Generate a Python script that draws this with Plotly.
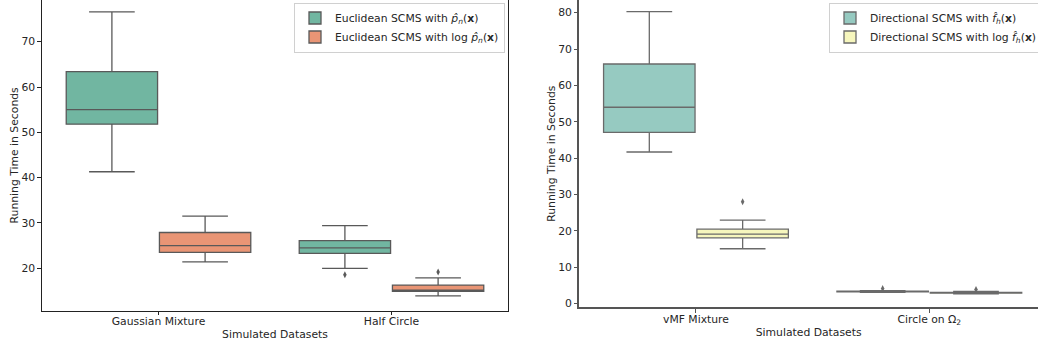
import plotly.graph_objects as go

# Datasets on each panel
euclid_datasets = ["Gaussian Mixture", "Half Circle"]
direct_datasets = ["vMF Mixture", "Circle on Ω<sub>2</sub>"]

# Euclidean SCMS with the density estimate p_n (seconds)
euc_p_low = [41.3, 20.0]
euc_p_q1 = [51.8, 23.3]
euc_p_med = [55.0, 24.5]
euc_p_q3 = [63.4, 26.1]
euc_p_high = [76.6, 29.4]
euc_p_out = [[], [18.6]]

# Euclidean SCMS with log p_n (seconds)
euc_log_low = [21.4, 13.9]
euc_log_q1 = [23.5, 14.9]
euc_log_med = [25.0, 15.2]
euc_log_q3 = [27.9, 16.3]
euc_log_high = [31.5, 17.9]
euc_log_out = [[], [19.2]]

# Directional SCMS with f_h (seconds)
dir_f_low = [41.7, 3.1]
dir_f_q1 = [47.1, 3.25]
dir_f_med = [54.0, 3.35]
dir_f_q3 = [65.9, 3.45]
dir_f_high = [80.3, 3.6]
dir_f_out = [[], [4.2]]

# Directional SCMS with log f_h (seconds)
dir_log_low = [15.1, 2.7]
dir_log_q1 = [18.1, 2.9]
dir_log_med = [19.1, 3.0]
dir_log_q3 = [20.5, 3.1]
dir_log_high = [23.0, 3.4]
dir_log_out = [[28.0], [3.9]]

FONT = dict(family="DejaVu Sans", size=10.8, color="#262626")
HUE_OFFSET = 0.2
BOX_WIDTH = 0.392

fig = go.Figure()


def add_series(name, stats, outliers, fill, line, offset, xa, ya, legend):
    low, q1, med, q3, high = stats
    pos = [i + offset for i in range(len(med))]
    fig.add_trace(go.Box(
        x=pos, q1=q1, median=med, q3=q3, lowerfence=low, upperfence=high,
        width=BOX_WIDTH, whiskerwidth=0.5, fillcolor=fill,
        line=dict(color=line, width=1.3), boxpoints=False,
        name=name, xaxis=xa, yaxis=ya, legend=legend, hoverinfo="skip",
    ))
    ox, oy = [], []
    for p, vals in zip(pos, outliers):
        for v in vals:
            ox.append(p)
            oy.append(v)
    if ox:
        fig.add_trace(go.Scatter(
            x=ox, y=oy, mode="markers", showlegend=False,
            marker=dict(symbol="diamond-tall", size=5, color=line),
            xaxis=xa, yaxis=ya, hoverinfo="skip",
        ))


gray_l = "#595959"
gray_r = "#6a6a6a"

add_series("Euclidean SCMS with <i>p̂</i><sub><i>n</i></sub>(<b>x</b>)",
           (euc_p_low, euc_p_q1, euc_p_med, euc_p_q3, euc_p_high), euc_p_out,
           "#71b6a1", gray_l, -HUE_OFFSET, "x", "y", "legend")
add_series("Euclidean SCMS with log <i>p̂</i><sub><i>n</i></sub>(<b>x</b>)",
           (euc_log_low, euc_log_q1, euc_log_med, euc_log_q3, euc_log_high), euc_log_out,
           "#e99575", gray_l, HUE_OFFSET, "x", "y", "legend")
add_series("Directional SCMS with <i>f̂</i><sub><i>h</i></sub>(<b>x</b>)",
           (dir_f_low, dir_f_q1, dir_f_med, dir_f_q3, dir_f_high), dir_f_out,
           "#96cac1", gray_r, -HUE_OFFSET, "x2", "y2", "legend2")
add_series("Directional SCMS with log <i>f̂</i><sub><i>h</i></sub>(<b>x</b>)",
           (dir_log_low, dir_log_q1, dir_log_med, dir_log_q3, dir_log_high), dir_log_out,
           "#f6f6bd", gray_r, HUE_OFFSET, "x2", "y2", "legend2")

W, H = 1038, 349

common_x = dict(ticks="outside", ticklen=3.5, tickwidth=1, showgrid=False,
                zeroline=False, showline=True, tickfont=FONT, ticklabelstandoff=-3)
common_y = dict(ticks="outside", ticklen=3.5, tickwidth=1, showgrid=False,
                zeroline=False, showline=True, tickfont=FONT)

fig.update_layout(
    width=W, height=H,
    margin=dict(l=0, r=0, t=0, b=0, autoexpand=False),
    paper_bgcolor="white", plot_bgcolor="white",
    font=FONT,
    xaxis=dict(common_x, domain=[42 / W, 508 / W], range=[-0.5, 1.5],
               tickvals=[0, 1], ticktext=euclid_datasets, anchor="y",
               linecolor="#222", tickcolor="#222", linewidth=1.2,
               title=dict(text="Simulated Datasets", font=FONT, standoff=3)),
    yaxis=dict(common_y, domain=[(H - 310.7) / H, 1], range=[10.64, 79.2],
               tickvals=[20, 30, 40, 50, 60, 70], anchor="x", mirror=True,
               linecolor="#222", tickcolor="#222", linewidth=1.2,
               title=dict(text="Running Time in Seconds", font=FONT, standoff=0)),
    xaxis2=dict(common_x, domain=[579.3 / W, 1], range=[-0.5, 1.5 - 8 / 233.3],
                tickvals=[0, 1], ticktext=direct_datasets, anchor="y2",
                linecolor="#555", tickcolor="#555", linewidth=1.5,
                title=dict(text="Simulated Datasets", font=FONT, standoff=3)),
    yaxis2=dict(common_y, domain=[(H - 307.3) / H, 1], range=[-0.99, 83.49],
                tickvals=[0, 10, 20, 30, 40, 50, 60, 70, 80], anchor="x2",
                linecolor="#555", tickcolor="#555", linewidth=1.5,
                title=dict(text="Running Time in Seconds", font=FONT, standoff=0)),
    legend=dict(x=294 / W, y=1 - 2.5 / H, xanchor="left", yanchor="top",
                bordercolor="#d0d0d0", borderwidth=1, bgcolor="rgba(255,255,255,0.8)",
                font=FONT, itemwidth=30, tracegroupgap=0),
    legend2=dict(x=829 / W, y=1 - 2.5 / H, xanchor="left", yanchor="top",
                 bordercolor="#d0d0d0", borderwidth=1, bgcolor="rgba(255,255,255,0.8)",
                 font=FONT, itemwidth=30, tracegroupgap=0),
    showlegend=True,
)

fig.write_html("out.html")
